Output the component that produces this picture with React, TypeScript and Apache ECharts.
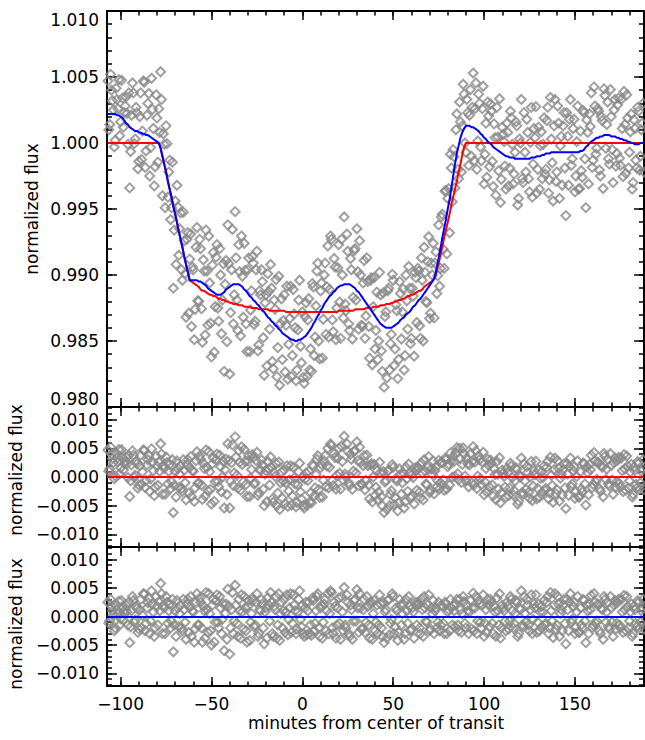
import React, { useEffect, useRef } from "react";
import * as echarts from "echarts";

// ---------------- data ----------------
// observation times, set A (minutes from center of transit)
const timeMin = [
  -107, -106, -105, -104, -103, -102, -101, -100, -99, -98,
  -97, -96, -95, -94, -93, -92, -91, -90, -89, -88,
  -87, -86, -85, -84, -83, -82, -81, -80, -79, -78,
  -77, -76, -75, -74, -73, -72, -71, -70, -69, -68,
  -67, -66, -65, -64, -63, -62, -61, -60, -59, -58,
  -57, -56, -55, -54, -53, -52, -51, -50, -49, -48,
  -47, -46, -45, -44, -43, -42, -41, -40, -39, -38,
  -37, -36, -35, -34, -33, -32, -31, -30, -29, -28,
  -27, -26, -25, -24, -23, -22, -21, -20, -19, -18,
  -17, -16, -15, -14, -13, -12, -11, -10, -9, -8,
  -7, -6, -5, -4, -3, -2, -1, 0, 1, 2,
  3, 4, 5, 6, 7, 8, 9, 10, 11, 12,
  13, 14, 15, 16, 17, 18, 19, 20, 21, 22,
  23, 24, 25, 26, 27, 28, 29, 30, 31, 32,
  33, 34, 35, 36, 37, 38, 39, 40, 41, 42,
  43, 44, 45, 46, 47, 48, 49, 50, 51, 52,
  53, 54, 55, 56, 57, 58, 59, 60, 61, 62,
  63, 64, 65, 66, 67, 68, 69, 70, 71, 72,
  73, 74, 75, 76, 77, 78, 79, 80, 81, 82,
  83, 84, 85, 86, 87, 88, 89, 90, 91, 92,
  93, 94, 95, 96, 97, 98, 99, 100, 101, 102,
  103, 104, 105, 106, 107, 108, 109, 110, 111, 112,
  113, 114, 115, 116, 117, 118, 119, 120, 121, 122,
  123, 124, 125, 126, 127, 128, 129, 130, 131, 132,
  133, 134, 135, 136, 137, 138, 139, 140, 141, 142,
  143, 144, 145, 146, 147, 148, 149, 150, 151, 152,
  153, 154, 155, 156, 157, 158, 159, 160, 161, 162,
  163, 164, 165, 166, 167, 168, 169, 170, 171, 172,
  173, 174, 175, 176, 177, 178, 179, 180, 181, 182,
  183, 184, 185, 186, 187, 188,
];

// measured normalized flux at set A, as (flux - 1) in units of 1e-4
const fluxDev = [
  47, 14, 40, 25, 2, 33, 48, 16, 34, 23,
  35, -1, -34, 21, 38, 3, 23, -14, 38, 9,
  46, -6, 30, -25, 49, 11, -18, 19, 26, 54,
  -40, -1, 13, -41, -13, -49, -110, -44, -32, -85,
  -53, -104, -74, -132, -68, -88, -139, -96, -126, -64,
  -120, -80, -151, -97, -66, -138, -106, -162, -83, -124,
  -77, -135, -100, -119, -173, -89, -62, -175, -96, -137,
  -52, -119, -77, -146, -101, -76, -137, -96, -158, -112,
  -91, -135, -82, -153, -115, -105, -176, -115, -99, -141,
  -110, -171, -126, -177, -101, -137, -164, -115, -138, -179,
  -133, -177, -111, -140, -172, -119, -154, -128, -182, -121,
  -134, -172, -173, -109, -147, -97, -150, -112, -163, -100,
  -145, -78, -111, -73, -143, -94, -125, -77, -148, -100,
  -56, -127, -82, -142, -96, -117, -80, -65, -141, -100,
  -139, -89, -131, -105, -163, -102, -124, -156, -113, -150,
  -115, -173, -185, -128, -112, -172, -145, -104, -156, -127,
  -164, -114, -128, -172, -100, -141, -110, -148, -116, -98,
  -136, -97, -148, -104, -79, -120, -90, -133, -91, -76,
  -91, -114, -62, -95, -54, -95, -36, -42, -68, -19,
  -5, -34, 22, -27, 16, 13, 37, -7, 23, 21,
  -10, 53, 26, -20, 37, -3, 26, -31, 15, 31,
  -18, 24, -33, 4, 27, -21, -45, 12, 1, -35,
  8, -19, 19, -31, -7, 13, -42, 0, -27, 23,
  -22, 8, -37, 27, -16, 4, -38, 12, -2, -27,
  19, -20, 27, -28, 3, -44, 33, -22, 15, -2,
  -32, 23, -55, 5, 18, -17, 11, -37, 1, -35,
  9, -26, 23, -49, 8, 22, 38, -13, 28, -4,
  24, -25, 17, 41, -4, 31, -16, 20, -30, 33,
  -8, 34, -17, 11, 39, -23, 19, -7, 22, -30,
  11, -19, 24, -10, 15, -22,
];

// transit model (red) at set A, (flux - 1) in units of 1e-4
const transitModelDev = [
  0, 0, 0, 0, 0, 0, 0, 0, 0, 0,
  0, 0, 0, 0, 0, 0, 0, 0, 0, 0,
  0, 0, 0, 0, 0, 0, 0, 0, 0, -4,
  -10, -16, -22, -29, -35, -41, -48, -54, -60, -67,
  -73, -79, -86, -92, -98, -104, -105, -106, -107, -108,
  -109, -111, -112, -112, -113, -114, -115, -115, -116, -116,
  -117, -118, -118, -119, -119, -120, -120, -121, -121, -122,
  -122, -122, -123, -123, -123, -124, -124, -124, -124, -125,
  -125, -125, -125, -126, -126, -126, -126, -126, -126, -127,
  -127, -127, -127, -127, -127, -127, -127, -127, -128, -128,
  -128, -128, -128, -128, -128, -128, -128, -128, -128, -128,
  -128, -128, -128, -128, -128, -128, -128, -128, -128, -128,
  -128, -128, -128, -128, -128, -128, -128, -127, -127, -127,
  -127, -127, -127, -127, -127, -127, -126, -126, -126, -126,
  -126, -126, -125, -125, -125, -125, -124, -124, -124, -124,
  -123, -123, -123, -122, -122, -122, -121, -121, -120, -120,
  -119, -119, -118, -118, -117, -116, -116, -115, -115, -114,
  -113, -112, -112, -111, -109, -108, -107, -106, -105, -104,
  -102, -97, -91, -85, -79, -72, -66, -60, -54, -47,
  -41, -35, -29, -22, -16, -9, -3, 0, 0, 0,
  0, 0, 0, 0, 0, 0, 0, 0, 0, 0,
  0, 0, 0, 0, 0, 0, 0, 0, 0, 0,
  0, 0, 0, 0, 0, 0, 0, 0, 0, 0,
  0, 0, 0, 0, 0, 0, 0, 0, 0, 0,
  0, 0, 0, 0, 0, 0, 0, 0, 0, 0,
  0, 0, 0, 0, 0, 0, 0, 0, 0, 0,
  0, 0, 0, 0, 0, 0, 0, 0, 0, 0,
  0, 0, 0, 0, 0, 0, 0, 0, 0, 0,
  0, 0, 0, 0, 0, 0, 0, 0, 0, 0,
  0, 0, 0, 0, 0, 0,
];

// smooth red-noise model (blue) at set A, (flux - 1) in units of 1e-4
const smoothModelDev = [
  22, 22, 22, 22, 22, 21, 21, 20, 19, 17,
  15, 14, 12, 11, 10, 9, 9, 8, 8, 7,
  7, 6, 6, 5, 4, 3, 2, 1, 0, -4,
  -10, -16, -22, -29, -35, -41, -48, -54, -60, -67,
  -73, -79, -86, -92, -98, -104, -104, -104, -104, -104,
  -105, -105, -106, -107, -108, -110, -111, -112, -113, -114,
  -115, -115, -115, -114, -113, -111, -110, -109, -108, -107,
  -107, -107, -107, -108, -109, -111, -112, -114, -116, -117,
  -119, -120, -122, -123, -125, -127, -128, -130, -132, -133,
  -135, -136, -138, -139, -141, -142, -144, -145, -146, -147,
  -148, -149, -149, -150, -150, -149, -149, -148, -147, -146,
  -144, -142, -140, -137, -135, -132, -130, -127, -125, -122,
  -120, -118, -116, -115, -113, -112, -110, -109, -108, -108,
  -107, -107, -107, -107, -108, -109, -110, -112, -113, -115,
  -117, -119, -121, -123, -125, -127, -129, -131, -133, -135,
  -137, -138, -139, -140, -140, -140, -140, -139, -138, -137,
  -136, -134, -133, -132, -130, -129, -128, -126, -124, -123,
  -121, -119, -118, -116, -114, -112, -110, -108, -106, -104,
  -101, -94, -87, -80, -72, -65, -58, -50, -43, -34,
  -25, -16, -8, -2, 4, 8, 11, 13, 13, 13,
  12, 12, 11, 10, 9, 7, 6, 4, 3, 1,
  0, -1, -3, -4, -5, -6, -7, -8, -9, -10,
  -10, -11, -11, -11, -12, -12, -12, -12, -12, -12,
  -12, -12, -12, -11, -11, -11, -10, -10, -10, -9,
  -9, -8, -8, -8, -7, -7, -7, -7, -7, -7,
  -7, -7, -7, -7, -7, -7, -7, -7, -7, -7,
  -6, -6, -5, -3, -2, 0, 1, 2, 3, 4,
  4, 5, 5, 6, 6, 6, 6, 5, 5, 5,
  4, 4, 3, 3, 2, 2, 1, 1, 0, 0,
  -1, -1, -1, 0, 0, 0,
];

// interleaved observation times, set B
const timeMinB = [
  -106.5, -105.5, -104.5, -103.5, -102.5, -101.5, -100.5, -99.5, -98.5, -97.5,
  -96.5, -95.5, -94.5, -93.5, -92.5, -91.5, -90.5, -89.5, -88.5, -87.5,
  -86.5, -85.5, -84.5, -83.5, -82.5, -81.5, -80.5, -79.5, -78.5, -77.5,
  -76.5, -75.5, -74.5, -73.5, -72.5, -71.5, -70.5, -69.5, -68.5, -67.5,
  -66.5, -65.5, -64.5, -63.5, -62.5, -61.5, -60.5, -59.5, -58.5, -57.5,
  -56.5, -55.5, -54.5, -53.5, -52.5, -51.5, -50.5, -49.5, -48.5, -47.5,
  -46.5, -45.5, -44.5, -43.5, -42.5, -41.5, -40.5, -39.5, -38.5, -37.5,
  -36.5, -35.5, -34.5, -33.5, -32.5, -31.5, -30.5, -29.5, -28.5, -27.5,
  -26.5, -25.5, -24.5, -23.5, -22.5, -21.5, -20.5, -19.5, -18.5, -17.5,
  -16.5, -15.5, -14.5, -13.5, -12.5, -11.5, -10.5, -9.5, -8.5, -7.5,
  -6.5, -5.5, -4.5, -3.5, -2.5, -1.5, -0.5, 0.5, 1.5, 2.5,
  3.5, 4.5, 5.5, 6.5, 7.5, 8.5, 9.5, 10.5, 11.5, 12.5,
  13.5, 14.5, 15.5, 16.5, 17.5, 18.5, 19.5, 20.5, 21.5, 22.5,
  23.5, 24.5, 25.5, 26.5, 27.5, 28.5, 29.5, 30.5, 31.5, 32.5,
  33.5, 34.5, 35.5, 36.5, 37.5, 38.5, 39.5, 40.5, 41.5, 42.5,
  43.5, 44.5, 45.5, 46.5, 47.5, 48.5, 49.5, 50.5, 51.5, 52.5,
  53.5, 54.5, 55.5, 56.5, 57.5, 58.5, 59.5, 60.5, 61.5, 62.5,
  63.5, 64.5, 65.5, 66.5, 67.5, 68.5, 69.5, 70.5, 71.5, 72.5,
  73.5, 74.5, 75.5, 76.5, 77.5, 78.5, 79.5, 80.5, 81.5, 82.5,
  83.5, 84.5, 85.5, 86.5, 87.5, 88.5, 89.5, 90.5, 91.5, 92.5,
  93.5, 94.5, 95.5, 96.5, 97.5, 98.5, 99.5, 100.5, 101.5, 102.5,
  103.5, 104.5, 105.5, 106.5, 107.5, 108.5, 109.5, 110.5, 111.5, 112.5,
  113.5, 114.5, 115.5, 116.5, 117.5, 118.5, 119.5, 120.5, 121.5, 122.5,
  123.5, 124.5, 125.5, 126.5, 127.5, 128.5, 129.5, 130.5, 131.5, 132.5,
  133.5, 134.5, 135.5, 136.5, 137.5, 138.5, 139.5, 140.5, 141.5, 142.5,
  143.5, 144.5, 145.5, 146.5, 147.5, 148.5, 149.5, 150.5, 151.5, 152.5,
  153.5, 154.5, 155.5, 156.5, 157.5, 158.5, 159.5, 160.5, 161.5, 162.5,
  163.5, 164.5, 165.5, 166.5, 167.5, 168.5, 169.5, 170.5, 171.5, 172.5,
  173.5, 174.5, 175.5, 176.5, 177.5, 178.5, 179.5, 180.5, 181.5, 182.5,
  183.5, 184.5, 185.5, 186.5, 187.5,
];

// measured normalized flux at set B, (flux - 1) in units of 1e-4
const fluxDevB = [
  10, 52, 32, -3, 41.5, 26, 5.5, 47.5, 12, 28,
  22.5, 38, -6.5, 45.5, -0.5, 27, -19.5, 20, -12.5, 47,
  -18.5, 21, 37.5, -3.5, 25.5, -32.5, 36.5, -14.5, 8, 33,
  7, -49, -0.5, -22, -58, -14.5, -66, -92, -48.5, -65,
  -96, -52.5, -99, -73, -129, -69, -94, -149, -79, -119.5,
  -73, -125.5, -88.5, -145.5, -97, -70.5, -136.5, -92.5, -158.5, -86.5,
  -125, -80, -144.5, -91.5, -107, -150.5, -91.5, -128.5, -65.5, -115,
  -87, -142, -97.5, -70.5, -132, -96.5, -158, -87, -126.5, -86,
  -137.5, -96, -157.5, -112, -96, -147.5, -121, -169, -112.5, -92,
  -165.5, -119, -103.5, -155, -183.5, -118, -134.5, -173.5, -108.5, -152.5,
  -108.5, -161, -129.5, -180, -141.5, -104, -166.5, -177.5, -131.5, -177,
  -118, -156, -106.5, -161, -123.5, -91, -163.5, -106, -133.5, -91,
  -109, -147, -70.5, -134, -87.5, -149, -94.5, -120.5, -73, -132.5,
  -122, -69, -137, -87.5, -148.5, -81.5, -119, -97.5, -74, -138,
  -106, -148, -87, -139, -104, -168, -102, -142, -164, -98,
  -157.5, -113.5, -131.5, -178, -110, -152, -99.5, -168.5, -122.5, -178.5,
  -105, -148.5, -110.5, -161, -119.5, -93.5, -152, -110, -161.5, -102,
  -95, -138.5, -87, -150, -98, -121, -71, -129, -100, -132.5,
  -82.5, -100.5, -108.5, -56, -80.5, -36.5, -84, -34.5, -8.5, -44.5,
  -10.5, 10, -20, 31, -22, 44.5, 0, 33, -17, 40.5,
  27, -13.5, 45.5, 1.5, 30, -13.5, 43, -8.5, -26, 20.5,
  29.5, -14, 14.5, -39.5, 4.5, 33.5, -27.5, 6.5, -17.5, 15,
  -32.5, 24, -1, -23.5, 16, -47, 3, 33, -30, -7,
  18, -27, 0.5, -41, 11, 27.5, -20, -35, 8.5, -1,
  -23.5, 17, -38, 34.5, -15, 13, -29, 28, -42, 5,
  13, -19, 23, -32, 33, -12, 18, -25, 28, -34.5,
  -21, 24.5, -12, 17.5, -31, 12.5, -18.5, 42.5, -8.5, 26,
  -20.5, 20, -34.5, 36, 14, -12, 40.5, -5, 25, -17.5,
  29, -11.5, 33, -25.5, 14, 36.5, -19, 8.5, -35, 17.5,
  -13, 27, -20.5, 10, 30,
];

// transit model (red) at set B, (flux - 1) in units of 1e-4
const transitModelDevB = [
  0, 0, 0, 0, 0, 0, 0, 0, 0, 0,
  0, 0, 0, 0, 0, 0, 0, 0, 0, 0,
  0, 0, 0, 0, 0, 0, 0, 0, -2, -7,
  -13, -19, -25.5, -32, -38, -44.5, -51, -57, -63.5, -70,
  -76, -82.5, -89, -95, -101, -104.5, -105.5, -106.5, -107.5, -108.5,
  -110, -111.5, -112, -112.5, -113.5, -114.5, -115, -115.5, -116, -116.5,
  -117.5, -118, -118.5, -119, -119.5, -120, -120.5, -121, -121.5, -122,
  -122, -122.5, -123, -123, -123.5, -124, -124, -124, -124.5, -125,
  -125, -125, -125.5, -126, -126, -126, -126, -126, -126.5, -127,
  -127, -127, -127, -127, -127, -127, -127, -127.5, -128, -128,
  -128, -128, -128, -128, -128, -128, -128, -128, -128, -128,
  -128, -128, -128, -128, -128, -128, -128, -128, -128, -128,
  -128, -128, -128, -128, -128, -128, -127.5, -127, -127, -127,
  -127, -127, -127, -127, -127, -126.5, -126, -126, -126, -126,
  -126, -125.5, -125, -125, -125, -124.5, -124, -124, -124, -123.5,
  -123, -123, -122.5, -122, -122, -121.5, -121, -120.5, -120, -119.5,
  -119, -118.5, -118, -117.5, -116.5, -116, -115.5, -115, -114.5, -113.5,
  -112.5, -112, -111.5, -110, -108.5, -107.5, -106.5, -105.5, -104.5, -103,
  -99.5, -94, -88, -82, -75.5, -69, -63, -57, -50.5, -44,
  -38, -32, -25.5, -19, -12.5, -6, -1.5, 0, 0, 0,
  0, 0, 0, 0, 0, 0, 0, 0, 0, 0,
  0, 0, 0, 0, 0, 0, 0, 0, 0, 0,
  0, 0, 0, 0, 0, 0, 0, 0, 0, 0,
  0, 0, 0, 0, 0, 0, 0, 0, 0, 0,
  0, 0, 0, 0, 0, 0, 0, 0, 0, 0,
  0, 0, 0, 0, 0, 0, 0, 0, 0, 0,
  0, 0, 0, 0, 0, 0, 0, 0, 0, 0,
  0, 0, 0, 0, 0, 0, 0, 0, 0, 0,
  0, 0, 0, 0, 0, 0, 0, 0, 0, 0,
  0, 0, 0, 0, 0,
];

// smooth red-noise model (blue) at set B, (flux - 1) in units of 1e-4
const smoothModelDevB = [
  22, 22, 22, 22, 21.5, 21, 20.5, 19.5, 18, 16,
  14.5, 13, 11.5, 10.5, 9.5, 9, 8.5, 8, 7.5, 7,
  6.5, 6, 5.5, 4.5, 3.5, 2.5, 1.5, 0.5, -2, -7,
  -13, -19, -25.5, -32, -38, -44.5, -51, -57, -63.5, -70,
  -76, -82.5, -89, -95, -101, -104, -104, -104, -104, -104.5,
  -105, -105.5, -106.5, -107.5, -109, -110.5, -111.5, -112.5, -113.5, -114.5,
  -115, -115, -114.5, -113.5, -112, -110.5, -109.5, -108.5, -107.5, -107,
  -107, -107, -107.5, -108.5, -110, -111.5, -113, -115, -116.5, -118,
  -119.5, -121, -122.5, -124, -126, -127.5, -129, -131, -132.5, -134,
  -135.5, -137, -138.5, -140, -141.5, -143, -144.5, -145.5, -146.5, -147.5,
  -148.5, -149, -149.5, -150, -149.5, -149, -148.5, -147.5, -146.5, -145,
  -143, -141, -138.5, -136, -133.5, -131, -128.5, -126, -123.5, -121,
  -119, -117, -115.5, -114, -112.5, -111, -109.5, -108.5, -108, -107.5,
  -107, -107, -107, -107.5, -108.5, -109.5, -111, -112.5, -114, -116,
  -118, -120, -122, -124, -126, -128, -130, -132, -134, -136,
  -137.5, -138.5, -139.5, -140, -140, -140, -139.5, -138.5, -137.5, -136.5,
  -135, -133.5, -132.5, -131, -129.5, -128.5, -127, -125, -123.5, -122,
  -120, -118.5, -117, -115, -113, -111, -109, -107, -105, -102.5,
  -97.5, -90.5, -83.5, -76, -68.5, -61.5, -54, -46.5, -38.5, -29.5,
  -20.5, -12, -5, 1, 6, 9.5, 12, 13, 13, 12.5,
  12, 11.5, 10.5, 9.5, 8, 6.5, 5, 3.5, 2, 0.5,
  -0.5, -2, -3.5, -4.5, -5.5, -6.5, -7.5, -8.5, -9.5, -10,
  -10.5, -11, -11, -11.5, -12, -12, -12, -12, -12, -12,
  -12, -12, -11.5, -11, -11, -10.5, -10, -10, -9.5, -9,
  -8.5, -8, -8, -7.5, -7, -7, -7, -7, -7, -7,
  -7, -7, -7, -7, -7, -7, -7, -7, -7, -6.5,
  -6, -5.5, -4, -2.5, -1, 0.5, 1.5, 2.5, 3.5, 4,
  4.5, 5, 5.5, 6, 6, 6, 5.5, 5, 5, 4.5,
  4, 3.5, 3, 2.5, 2, 1.5, 1, 0.5, 0, -0.5,
  -1, -1, -0.5, 0, 0,
];

// axis ticks
const xMajorTicks = [-100, -50, 0, 50, 100, 150];
const xMinorTicks = [-100, -90, -80, -70, -60, -50, -40, -30, -20, -10, 0, 10, 20, 30, 40, 50, 60, 70, 80, 90, 100, 110, 120, 130, 140, 150, 160, 170, 180];
const fluxMajorTicks = [0.98, 0.985, 0.99, 0.995, 1.0, 1.005, 1.01];
const fluxMinorTicks = [
  0.98, 0.981, 0.982, 0.983, 0.984, 0.985, 0.986, 0.987, 0.988, 0.989, 0.99,
  0.991, 0.992, 0.993, 0.994, 0.995, 0.996, 0.997, 0.998, 0.999, 1.0,
  1.001, 1.002, 1.003, 1.004, 1.005, 1.006, 1.007, 1.008, 1.009, 1.01,
];
const residMajorTicks = [-0.01, -0.005, 0, 0.005, 0.01];
const residMinorTicks = [
  -0.012, -0.011, -0.01, -0.009, -0.008, -0.007, -0.006, -0.005, -0.004, -0.003, -0.002, -0.001,
  0, 0.001, 0.002, 0.003, 0.004, 0.005, 0.006, 0.007, 0.008, 0.009, 0.01, 0.011, 0.012,
];

const X_MIN = -107.5;
const X_MAX = 188;
const FLUX_MIN = 0.98;
const FLUX_MAX = 1.01;
const RES_MIN = -0.0122;
const RES_MAX = 0.0122;

const FONT = '"DejaVu Sans", "Liberation Sans", sans-serif';
const POINT_GREY = "#888888";
const RED = "#ff0000";
const BLUE = "#0000ff";

const minus = (v: number, digits: number) => {
  const s = Math.abs(v).toFixed(digits);
  return v < -1e-12 ? "\u2212" + s : s;
};

function buildOption() {
  const grids = [
    { left: 107, right: 1, top: 11, height: 396 },
    { left: 107, right: 1, top: 407, height: 140 },
    { left: 107, right: 1, top: 547, height: 139 },
  ];

  const xAxes: any[] = [];
  const yAxes: any[] = [];
  const xMain: number[] = [];
  const yMain: number[] = [];

  grids.forEach((_, g) => {
    const isBottom = g === 2;
    const yMin = g === 0 ? FLUX_MIN : RES_MIN;
    const yMax = g === 0 ? FLUX_MAX : RES_MAX;
    const yMajor = g === 0 ? fluxMajorTicks : residMajorTicks;
    const yMinor = g === 0 ? fluxMinorTicks : residMinorTicks;

    const xBase = (pos: string, ticks: number[], len: number, line: boolean, label: boolean) => ({
      gridIndex: g,
      type: "value",
      position: pos,
      min: X_MIN,
      max: X_MAX,
      splitLine: { show: false },
      axisLine: { show: line, onZero: false, lineStyle: { color: "#000", width: 2 } },
      axisTick: { show: true, inside: true, length: len, customValues: ticks, lineStyle: { color: "#000", width: 1.5 } },
      axisLabel: {
        show: label,
        customValues: xMajorTicks,
        margin: 9,
        color: "#000",
        fontSize: 17,
        fontFamily: FONT,
        formatter: (v: number) => minus(v, 0),
      },
    });
    xMain.push(xAxes.length);
    xAxes.push(xBase("bottom", xMajorTicks, 9, true, isBottom));
    xAxes.push(xBase("bottom", xMinorTicks, 4.5, false, false));
    xAxes.push(xBase("top", xMajorTicks, 9, true, false));
    xAxes.push(xBase("top", xMinorTicks, 4.5, false, false));

    const yBase = (pos: string, ticks: number[], len: number, line: boolean, label: boolean) => ({
      gridIndex: g,
      type: "value",
      position: pos,
      min: yMin,
      max: yMax,
      splitLine: { show: false },
      axisLine: { show: line, onZero: false, lineStyle: { color: "#000", width: 2 } },
      axisTick: { show: true, inside: true, length: len, customValues: ticks, lineStyle: { color: "#000", width: 1.5 } },
      axisLabel: {
        show: label,
        customValues: yMajor,
        margin: 8,
        color: "#000",
        fontSize: 17,
        fontFamily: FONT,
        formatter: (v: number) => minus(v, 3),
        ...(g === 0 ? { verticalAlignMinLabel: "bottom", verticalAlignMaxLabel: "top" } : {}),
      },
    });
    yMain.push(yAxes.length);
    yAxes.push(yBase("left", yMajor, 10, true, true));
    yAxes.push(yBase("left", yMinor, 5, false, false));
    yAxes.push(yBase("right", yMajor, 10, true, false));
    yAxes.push(yBase("right", yMinor, 5, false, false));
  });

  // all observations (sets A and B together)
  const allTime = [...timeMin, ...timeMinB];
  const allFluxDev = [...fluxDev, ...fluxDevB];
  const allTransitDev = [...transitModelDev, ...transitModelDevB];
  const allSmoothDev = [...smoothModelDev, ...smoothModelDevB];

  const flux = allFluxDev.map((v) => 1 + v / 1e4);
  const residTransit = allFluxDev.map((v, i) => (v - allTransitDev[i]) / 1e4);
  const residSmooth = allFluxDev.map((v, i) => (v - allSmoothDev[i]) / 1e4);

  const order = allTime.map((_, i) => i).sort((a, b) => allTime[a] - allTime[b]);
  const transitLine = order.map((i) => [allTime[i], 1 + allTransitDev[i] / 1e4]);
  const smoothLine = order.map((i) => [allTime[i], 1 + allSmoothDev[i] / 1e4]);

  const scatterStyle = {
    type: "scatter",
    symbol: "diamond",
    symbolSize: 9,
    itemStyle: { color: "rgba(0,0,0,0)", borderColor: POINT_GREY, borderWidth: 2 },
    silent: true,
    clip: true,
  };

  const series: any[] = [
    {
      ...scatterStyle,
      xAxisIndex: xMain[0],
      yAxisIndex: yMain[0],
      data: allTime.map((t, i) => [t, flux[i]]),
    },
    {
      type: "line",
      xAxisIndex: xMain[0],
      yAxisIndex: yMain[0],
      showSymbol: false,
      symbol: "none",
      silent: true,
      lineStyle: { color: RED, width: 2 },
      data: transitLine,
    },
    {
      type: "line",
      xAxisIndex: xMain[0],
      yAxisIndex: yMain[0],
      showSymbol: false,
      symbol: "none",
      silent: true,
      lineStyle: { color: BLUE, width: 2 },
      data: smoothLine,
    },
    {
      ...scatterStyle,
      xAxisIndex: xMain[1],
      yAxisIndex: yMain[1],
      data: allTime.map((t, i) => [t, residTransit[i]]),
      markLine: {
        silent: true,
        symbol: "none",
        label: { show: false },
        lineStyle: { color: RED, width: 2, type: "solid" },
        data: [{ yAxis: 0 }],
      },
    },
    {
      ...scatterStyle,
      xAxisIndex: xMain[2],
      yAxisIndex: yMain[2],
      data: allTime.map((t, i) => [t, residSmooth[i]]),
      markLine: {
        silent: true,
        symbol: "none",
        label: { show: false },
        lineStyle: { color: BLUE, width: 2, type: "solid" },
        data: [{ yAxis: 0 }],
      },
    },
  ];

  const titleStyle = (text: string) => ({
    text,
    fill: "#000",
    fontSize: 17,
    fontFamily: FONT,
    align: "center",
    verticalAlign: "middle",
  });

  return {
    animation: false,
    backgroundColor: "#fff",
    grid: grids,
    xAxis: xAxes,
    yAxis: yAxes,
    series,
    graphic: [
      { type: "text", x: 32, y: 209, rotation: Math.PI / 2, style: titleStyle("normalized flux") },
      { type: "text", x: 16, y: 470, rotation: Math.PI / 2, style: titleStyle("normalized flux") },
      { type: "text", x: 16, y: 624, rotation: Math.PI / 2, style: titleStyle("normalized flux") },
      { type: "text", x: 376, y: 723, style: titleStyle("minutes from center of transit") },
    ],
  };
}

export default function App() {
  const ref = useRef<HTMLDivElement>(null);
  useEffect(() => {
    if (!ref.current) return;
    const chart = echarts.init(ref.current, undefined, { renderer: "svg" });
    chart.setOption(buildOption() as any);
    return () => chart.dispose();
  }, []);
  return (
    <div
      ref={ref}
      style={{ position: "absolute", left: 0, top: 0, width: 645, height: 740, background: "#fff" }}
    />
  );
}
